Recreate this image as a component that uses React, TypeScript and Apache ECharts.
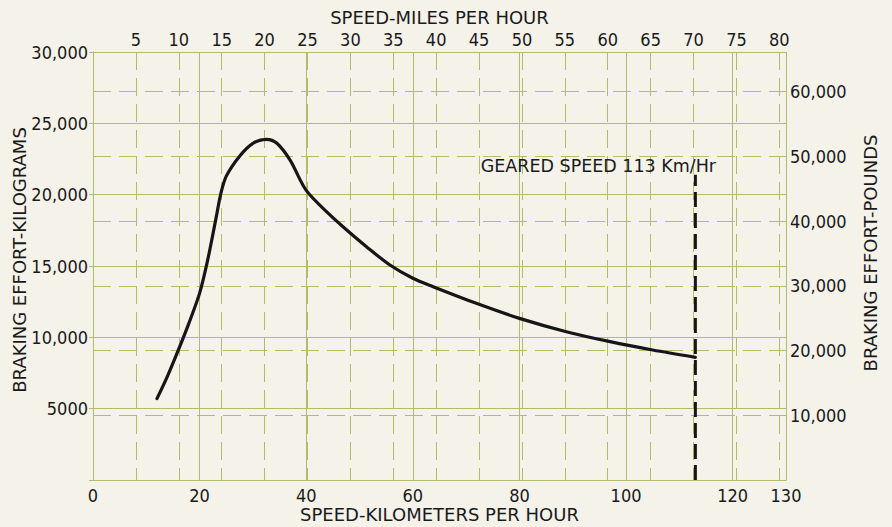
import React, { useEffect, useRef } from "react";
import * as echarts from "echarts";

const speedKmh = [12, 14, 16, 18, 20, 21.5, 23, 24, 25, 27.5, 30, 32.5, 34.5, 37, 40, 44.4, 47.6, 51.3, 55.7, 60, 63.8, 71.9, 80, 88.8, 97, 105, 113];
const effortKg = [5700, 7300, 9100, 11000, 13100, 15400, 18200, 20100, 21300, 22700, 23600, 23880, 23600, 22400, 20300, 18600, 17520, 16350, 15070, 14140, 13550, 12385, 11330, 10395, 9695, 9112, 8600];

const gearedSpeed = 113;
const gearedLineTop = 21400;
const gearedLabel = "GEARED SPEED 113 Km/Hr";

const KM_PER_MILE = 1.609344;
const LB_PER_KG = 2.20462262;

const GRID = "#b0be6c";
const INK = "#1a1a1a";
const FONT = "'DejaVu Sans Condensed', 'DejaVu Sans', sans-serif";
const TITLE_FONT = "'DejaVu Sans', sans-serif";

export default function App() {
  const ref = useRef<HTMLDivElement>(null);
  useEffect(() => {
    if (!ref.current) return;
    const chart = echarts.init(ref.current, undefined, { renderer: "svg" });
    const dash = { type: [18, 8] as any, color: GRID, width: 1 };
    const solid = { type: "solid" as any, color: GRID, width: 1 };
    const titleStyle = { color: INK, fontSize: 18, fontFamily: TITLE_FONT };
    const tickStyle = { color: INK, fontSize: 18, fontFamily: FONT };
    chart.setOption({
      animation: false,
      backgroundColor: "#f5f2ea",
      textStyle: { fontFamily: FONT, color: INK },
      grid: {
        left: 93,
        right: 106,
        top: 52,
        bottom: 47,
        containLabel: false,
        outerBoundsMode: "none",
      },
      xAxis: [
        {
          type: "value",
          position: "bottom",
          min: 0,
          max: 130,
          interval: 20,
          axisLine: { show: true, lineStyle: solid },
          axisTick: { show: false },
          splitLine: { show: true, lineStyle: solid },
          axisLabel: { ...tickStyle, margin: 6 },
          name: "SPEED-KILOMETERS PER HOUR",
          nameLocation: "middle",
          nameGap: 25,
          nameMoveOverlap: false,
          nameTextStyle: titleStyle,
        },
        {
          type: "value",
          position: "top",
          min: 0,
          max: 130 / KM_PER_MILE,
          interval: 5,
          axisLine: { show: true, lineStyle: solid },
          axisTick: { show: false },
          splitLine: { show: true, lineStyle: dash },
          axisLabel: {
            ...tickStyle,
            margin: 4,
            formatter: (v: number) => (v > 0 && Math.abs(v % 5) < 1e-6 ? String(v) : ""),
          },
          name: "SPEED-MILES PER HOUR",
          nameLocation: "middle",
          nameGap: 26,
          nameMoveOverlap: false,
          nameTextStyle: titleStyle,
        },
      ],
      yAxis: [
        {
          type: "value",
          position: "left",
          min: 0,
          max: 30000,
          interval: 5000,
          axisLine: { show: true, lineStyle: solid },
          axisTick: { show: true, length: 4, lineStyle: { color: GRID } },
          splitLine: { show: true, lineStyle: solid },
          axisLabel: {
            ...tickStyle,
            margin: 5,
            formatter: (v: number) => (v === 0 ? "" : v < 10000 ? String(v) : v.toLocaleString("en-US")),
          },
          name: "BRAKING EFFORT-KILOGRAMS",
          nameLocation: "middle",
          nameGap: 65,
          nameMoveOverlap: false,
          nameTextStyle: { ...titleStyle, padding: [0, 0, 0, 12] },
        },
        {
          type: "value",
          position: "right",
          min: 0,
          max: 30000 * LB_PER_KG,
          interval: 10000,
          axisLine: { show: true, lineStyle: solid },
          axisTick: { show: true, length: 4, lineStyle: { color: GRID } },
          splitLine: { show: true, lineStyle: dash },
          axisLabel: {
            ...tickStyle,
            margin: 4,
            formatter: (v: number) => (v > 0 && Math.abs(v % 10000) < 1e-6 ? v.toLocaleString("en-US") : ""),
          },
          name: "BRAKING EFFORT-POUNDS",
          nameLocation: "middle",
          nameGap: 75,
          nameRotate: 90,
          nameMoveOverlap: false,
          nameTextStyle: { ...titleStyle, padding: [0, 0, 0, 26] },
        },
      ],
      series: [
        {
          type: "line",
          xAxisIndex: 0,
          yAxisIndex: 0,
          data: speedKmh.map((s, i) => [s, effortKg[i]]),
          smooth: 0.3,
          showSymbol: false,
          symbol: "none",
          lineStyle: { color: "#161616", width: 3.2, cap: "round" },
          z: 5,
        },
        {
          type: "line",
          xAxisIndex: 0,
          yAxisIndex: 0,
          data: [
            [gearedSpeed, 0],
            [gearedSpeed, gearedLineTop],
          ],
          showSymbol: false,
          symbol: "none",
          lineStyle: { color: "#161616", width: 3, type: [15, 6] },
          z: 6,
        },
        {
          type: "scatter",
          xAxisIndex: 0,
          yAxisIndex: 0,
          data: [[gearedSpeed, gearedLineTop]],
          symbol: "circle",
          symbolSize: 0,
          itemStyle: { color: INK, opacity: 1 },
          silent: true,
          label: {
            show: true,
            position: "top",
            distance: 0,
            offset: [-97, 0],
            formatter: gearedLabel,
            color: INK,
            opacity: 1,
            fontSize: 17.5,
            fontFamily: TITLE_FONT,
          },
          z: 7,
        },
      ],
    });
    return () => chart.dispose();
  }, []);
  return (
    <div
      ref={ref}
      style={{ position: "fixed", left: 0, top: 0, width: 892, height: 527 }}
    />
  );
}
